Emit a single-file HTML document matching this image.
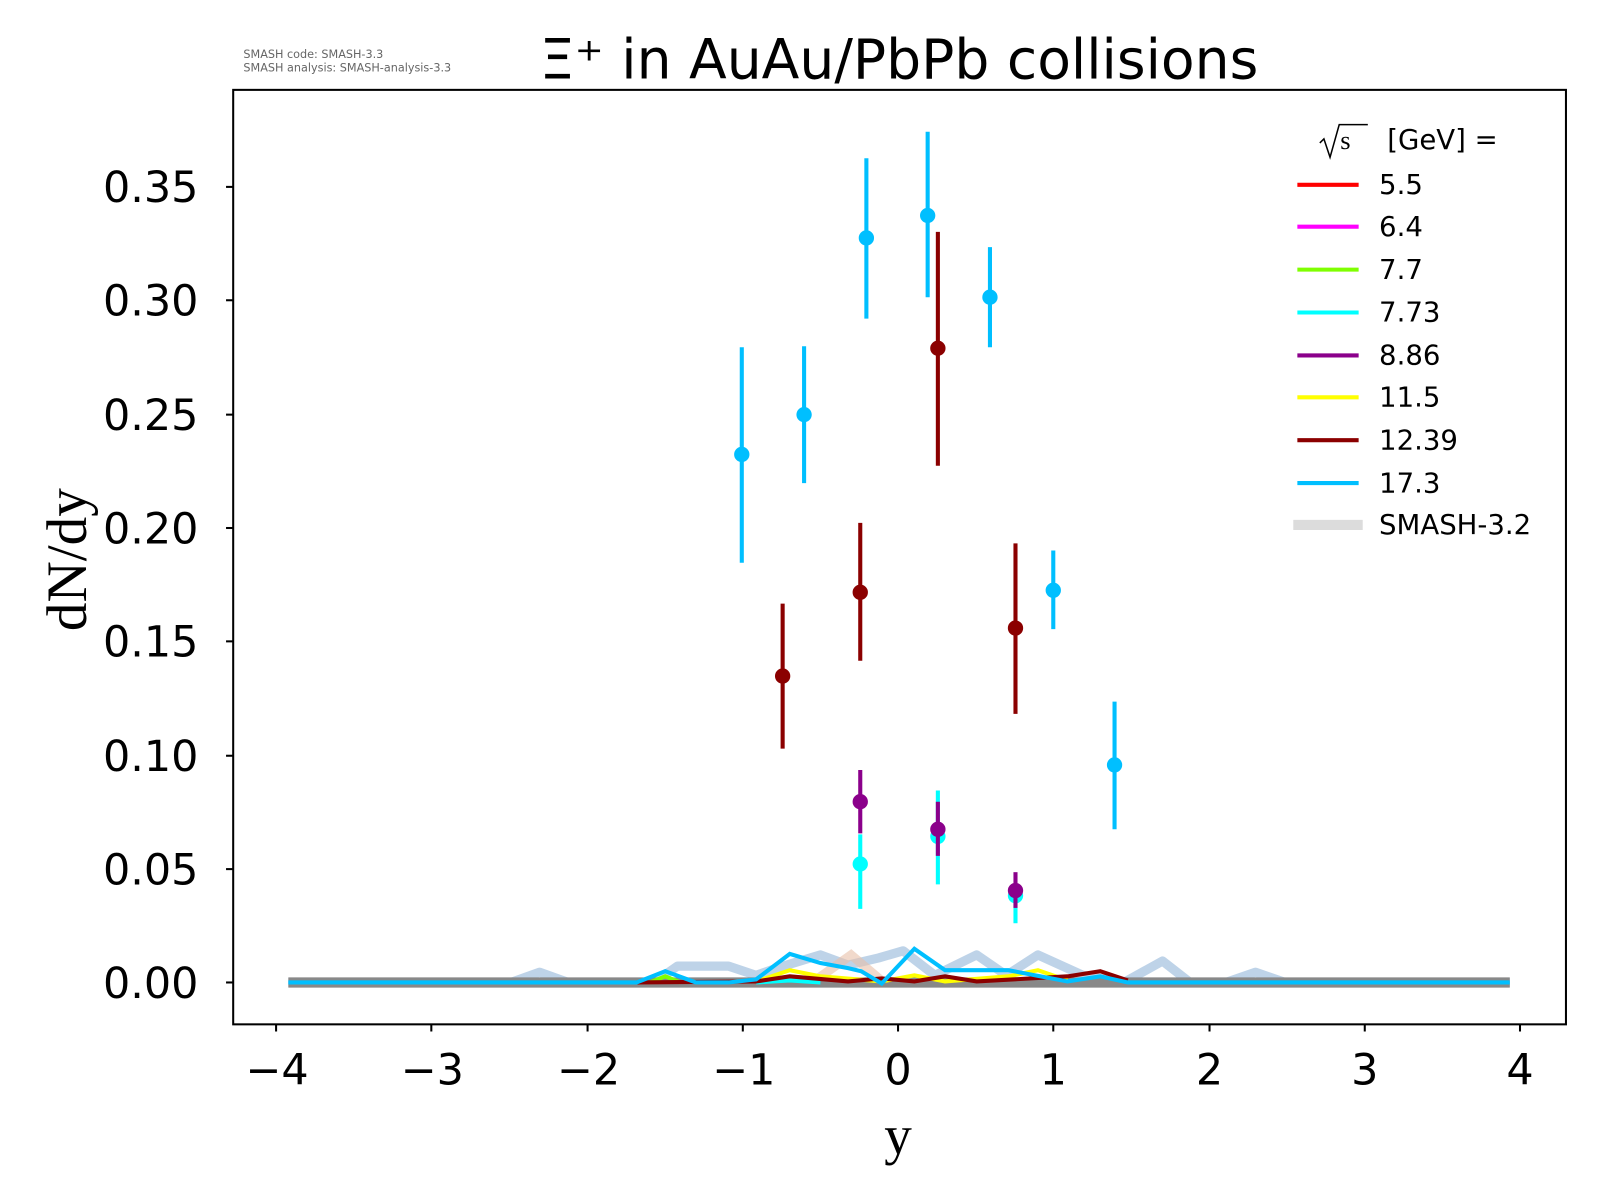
<!DOCTYPE html>
<html><head><style>html,body{margin:0;padding:0;background:#fff}svg{display:block}</style></head>
<body>
<svg width="1600" height="1200" viewBox="0 0 1566 1175" xmlns="http://www.w3.org/2000/svg" font-family="DejaVu Sans, Liberation Sans, sans-serif">
<rect width="1566" height="1175" fill="#fff"/>
<text x="238" y="57" font-size="11" fill="#666">SMASH code:      SMASH-3.3</text>
<text x="238" y="70" font-size="11" fill="#666">SMASH analysis: SMASH-analysis-3.3</text>
<text x="880" y="77" font-size="54" text-anchor="middle">Ξ⁺ in AuAu/PbPb collisions</text>

<polyline fill="none" stroke="#a8c4e0" stroke-opacity="0.75" stroke-width="9" stroke-linejoin="round" points="282,962 500,962 528,952 556,962 640,962 663,946 713,946 740,955 760,948 803,935 830,945 860,938 884,931 915,955 956,935 985,955 1016,935 1060,955 1100,962 1138,941 1165,962 1200,962 1229,952 1258,962 1478,962"/>
<polyline fill="none" stroke="#e8c0a8" stroke-opacity="0.6" stroke-width="9" points="795,962 833,935 865,962"/>
<line x1="282" y1="962" x2="1478" y2="962" stroke="#888" stroke-width="10"/>
<polyline fill="none" stroke="#7fff00" stroke-width="4" points="636,962 651,956 666,962"/>
<polyline fill="none" stroke="#ffff00" stroke-width="4" points="740,961 773,950 803,956 863,961 895,955 925,961 987,956 1016,950 1045,960"/>
<polyline fill="none" stroke="#00ffff" stroke-width="4" points="740,962 773,960 803,962"/>
<polyline fill="none" stroke="#8b0000" stroke-width="4" points="623,962 740,961 773,956 830,961 863,958 895,961 925,956 956,961 1045,956 1077,951 1104,960"/>
<polyline fill="none" stroke="#00bfff" stroke-width="4" points="282,962 623,962 651,951 681,962 713,962 740,959 773,934 803,943 830,948 843,951 863,963 895,929 925,950 987,950 1045,961 1077,956 1104,962 1478,962"/>

<rect x="228" y="88" width="1305" height="915" fill="none" stroke="#000" stroke-width="2"/>
<g stroke="#000" stroke-width="2">
 <line x1="270" y1="1003" x2="270" y2="1010"/><line x1="422" y1="1003" x2="422" y2="1010"/><line x1="575" y1="1003" x2="575" y2="1010"/><line x1="727" y1="1003" x2="727" y2="1010"/><line x1="879" y1="1003" x2="879" y2="1010"/><line x1="1031" y1="1003" x2="1031" y2="1010"/><line x1="1184" y1="1003" x2="1184" y2="1010"/><line x1="1336" y1="1003" x2="1336" y2="1010"/><line x1="1488" y1="1003" x2="1488" y2="1010"/>
 <line x1="221" y1="962" x2="228" y2="962"/><line x1="221" y1="851" x2="228" y2="851"/><line x1="221" y1="740" x2="228" y2="740"/><line x1="221" y1="628" x2="228" y2="628"/><line x1="221" y1="517" x2="228" y2="517"/><line x1="221" y1="406" x2="228" y2="406"/><line x1="221" y1="294" x2="228" y2="294"/><line x1="221" y1="183" x2="228" y2="183"/>
</g>
<g font-size="42" text-anchor="middle">
 <text x="271" y="1062">−4</text><text x="423" y="1062">−3</text><text x="576" y="1062">−2</text><text x="728" y="1062">−1</text><text x="879" y="1062">0</text><text x="1031" y="1062">1</text><text x="1184" y="1062">2</text><text x="1336" y="1062">3</text><text x="1488" y="1062">4</text>
</g>
<g font-size="42" text-anchor="end">
 <text x="194" y="977">0.00</text><text x="194" y="866">0.05</text><text x="194" y="755">0.10</text><text x="194" y="643">0.15</text><text x="194" y="532">0.20</text><text x="194" y="421">0.25</text><text x="194" y="309">0.30</text><text x="194" y="198">0.35</text>
</g>
<text x="879" y="1130" font-size="54" text-anchor="middle" font-family="Liberation Serif, serif">y</text>
<text transform="translate(84,548) rotate(-90)" font-size="56" text-anchor="middle" font-family="Liberation Serif, serif">dN/dy</text>

<g stroke-width="4">
 <g stroke="#00ffff" fill="#00ffff">
  <line x1="842" y1="817" x2="842" y2="890"/><circle cx="842" cy="846" r="5.5"/>
  <line x1="918" y1="774" x2="918" y2="866"/><circle cx="918" cy="819" r="5.5"/>
  <line x1="994" y1="866" x2="994" y2="904"/><circle cx="994" cy="877" r="5.5"/>
 </g>
 <g stroke="#8b008b" fill="#8b008b">
  <line x1="842" y1="754" x2="842" y2="816"/><circle cx="842" cy="785" r="5.5"/>
  <line x1="918" y1="785" x2="918" y2="838"/><circle cx="918" cy="812" r="5.5"/>
  <line x1="994" y1="854" x2="994" y2="889"/><circle cx="994" cy="872" r="5.5"/>
 </g>
 <g stroke="#8b0000" fill="#8b0000">
  <line x1="766" y1="591" x2="766" y2="733"/><circle cx="766" cy="662" r="5.5"/>
  <line x1="842" y1="512" x2="842" y2="647"/><circle cx="842" cy="580" r="5.5"/>
  <line x1="918" y1="227" x2="918" y2="456"/><circle cx="918" cy="341" r="5.5"/>
  <line x1="994" y1="532" x2="994" y2="699"/><circle cx="994" cy="615" r="5.5"/>
 </g>
 <g stroke="#00bfff" fill="#00bfff">
  <line x1="726" y1="340" x2="726" y2="551"/><circle cx="726" cy="445" r="5.5"/>
  <line x1="787" y1="339" x2="787" y2="473"/><circle cx="787" cy="406" r="5.5"/>
  <line x1="848" y1="155" x2="848" y2="312"/><circle cx="848" cy="233" r="5.5"/>
  <line x1="908" y1="129" x2="908" y2="291"/><circle cx="908" cy="211" r="5.5"/>
  <line x1="969" y1="242" x2="969" y2="340"/><circle cx="969" cy="291" r="5.5"/>
  <line x1="1031" y1="539" x2="1031" y2="616"/><circle cx="1031" cy="578" r="5.5"/>
  <line x1="1091" y1="687" x2="1091" y2="812"/><circle cx="1091" cy="749" r="5.5"/>
 </g>
</g>

<g font-size="27">
 <path d="M1292,140 l4,-4 l6,18 l9,-32 h28" fill="none" stroke="#000" stroke-width="1.5"/>
 <text x="1312" y="146" font-family="Liberation Serif, serif" font-size="26">s</text>
 <text x="1358" y="146">[GeV] =</text>
 <g stroke-width="4">
  <line x1="1270" y1="181" x2="1330" y2="181" stroke="#ff0000"/>
  <line x1="1270" y1="222" x2="1330" y2="222" stroke="#ff00ff"/>
  <line x1="1270" y1="264" x2="1330" y2="264" stroke="#7fff00"/>
  <line x1="1270" y1="306" x2="1330" y2="306" stroke="#00ffff"/>
  <line x1="1270" y1="348" x2="1330" y2="348" stroke="#8b008b"/>
  <line x1="1270" y1="389" x2="1330" y2="389" stroke="#ffff00"/>
  <line x1="1270" y1="431" x2="1330" y2="431" stroke="#8b0000"/>
  <line x1="1270" y1="473" x2="1330" y2="473" stroke="#00bfff"/>
  <line x1="1266" y1="514" x2="1334" y2="514" stroke="#dcdcdc" stroke-width="10"/>
 </g>
 <text x="1350" y="190">5.5</text><text x="1350" y="231">6.4</text><text x="1350" y="273">7.7</text><text x="1350" y="315">7.73</text><text x="1350" y="357">8.86</text><text x="1350" y="398">11.5</text><text x="1350" y="440">12.39</text><text x="1350" y="482">17.3</text><text x="1350" y="523">SMASH-3.2</text>
</g>
</svg>
</body></html>
